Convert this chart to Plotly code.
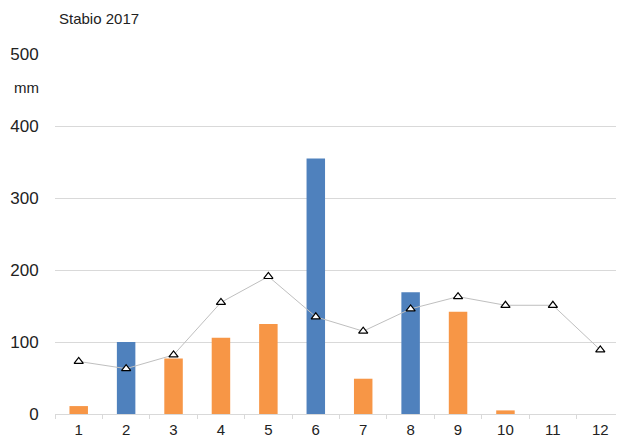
import plotly.graph_objects as go

months = ["1", "2", "3", "4", "5", "6", "7", "8", "9", "10", "11", "12"]
precip_2017 = [11, 100, 77, 106, 125, 355, 49, 169, 142, 5, 0, 0]
precip_norm = [73, 63, 82, 155, 191, 135, 115, 146, 163, 151, 151, 89]
y_ticks = [0, 100, 200, 300, 400, 500]

BLUE = "#4F81BD"
ORANGE = "#F79646"
bar_colors = [BLUE if v > n else ORANGE for v, n in zip(precip_2017, precip_norm)]

fig = go.Figure()
fig.add_trace(go.Bar(
    x=months, y=precip_2017,
    marker=dict(color=bar_colors, line=dict(width=0)),
    width=0.39, showlegend=False,
))
fig.add_trace(go.Scatter(
    x=months, y=precip_norm, mode="lines+markers",
    line=dict(color="#BFBFBF", width=1),
    marker=dict(symbol="triangle-up", size=8, color="white",
                line=dict(color="black", width=1.2)),
    showlegend=False,
))

# page body has an 8px margin, so the figure is drawn 8px in from the top-left
fig.update_layout(
    width=616, height=430,
    margin=dict(l=47, r=0, t=46, b=24),
    paper_bgcolor="white", plot_bgcolor="white",
    font=dict(family="Liberation Sans, Arial, sans-serif", color="#222222"),
    annotations=[
        dict(text="Stabio 2017", xref="paper", yref="paper", x=0, y=1,
             xanchor="left", yanchor="middle", yshift=36, xshift=2,
             showarrow=False, font=dict(size=15)),
        dict(text="mm", xref="paper", yref="paper", x=0, y=1,
             xanchor="right", yanchor="middle", yshift=-33, xshift=-14,
             showarrow=False, font=dict(size=15)),
    ],
)
fig.update_xaxes(
    type="category", showgrid=False, showline=True, linecolor="#D9D9D9",
    linewidth=1, ticks="outside", tickson="boundaries", ticklen=4,
    tickcolor="#D9D9D9", tickfont=dict(size=15, color="#222222"),
    ticklabelstandoff=2,
    range=[-0.5, 11.5], automargin=False,
)
fig.update_yaxes(
    range=[0, 500], tickvals=y_ticks, showgrid=True, gridcolor="#D9D9D9",
    gridwidth=1, zeroline=False, showline=False, ticks="outside",
    ticklen=12, tickcolor="rgba(0,0,0,0)", tickfont=dict(size=17, color="#222222"),
    automargin=False,
)

fig.write_html("out.html")
